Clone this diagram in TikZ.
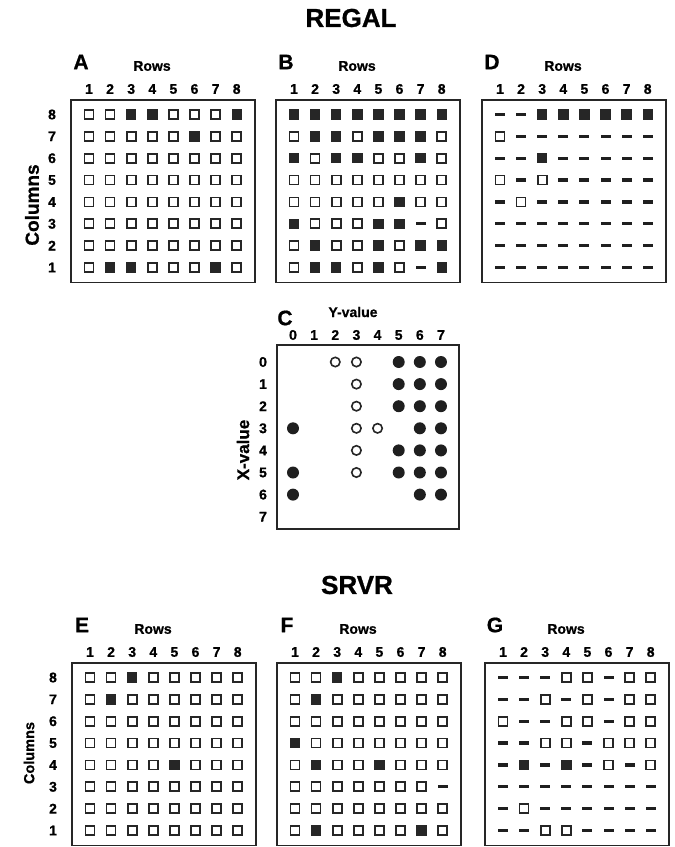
\documentclass[tikz,border=0pt]{standalone}
\usepackage{fontspec}
\setmainfont{Liberation Sans}[BoldFeatures={FakeBold=0.8}]
\tikzset{
  symo/.style={shape=rectangle, draw=black!85, line width=1.7pt, fill=white, minimum size=9pt, inner sep=0pt},
  symf/.style={shape=rectangle, fill=black!85, minimum size=10.4pt, inner sep=0pt},
  symd/.style={shape=rectangle, fill=black!88, minimum width=10pt, minimum height=3.2pt, inner sep=0pt},
  opencirc/.style={shape=circle, draw=black!85, line width=1.6pt, fill=white, minimum size=9.4pt, inner sep=0pt},
  fillcirc/.style={shape=circle, fill=black!88, minimum size=12pt, inner sep=0pt},
  pbox/.style={draw=black!85, line width=1.4pt, minimum width=184pt, minimum height=182.5pt, inner sep=0pt},
  plet/.style={font=\fontsize{21}{21}\selectfont\bfseries, inner sep=0pt},
  rowslbl/.style={font=\fontsize{14}{14}\selectfont\bfseries, inner sep=0pt},
  numlbl/.style={font=\fontsize{14}{14}\selectfont\bfseries, inner sep=0pt},
  titlelbl/.style={font=\fontsize{26}{26}\selectfont\bfseries, inner sep=0pt},
}
\newcommand{\sqpanel}[5]{%
  \node[pbox] (#1-box) at ({#2+92},{#3+91.25}) {};
  \node[plet] (#1-letter) at ({#2+10},{#3-38}) {#4};
  \node[rowslbl] (#1-rows) at ({#2+81},{#3-34}) {Rows};
  \foreach \cc in {1,...,8}{\node[numlbl] (#1-n\cc) at ({#2+18+21.1*(\cc-1)},{#3-11}) {\cc};}
  \foreach \rowdata [count=\rr] in {#5}{%
    \foreach \sy [count=\cc] in \rowdata{%
      \node[sym\sy] (#1-\rr-\cc) at ({#2+18+21.1*(\cc-1)},{#3+14.5+21.86*(\rr-1)}) {};
    }%
  }%
}
\newcommand{\rowlabels}[3]{%
  \foreach \rr in {1,...,8}{%
    \pgfmathtruncatemacro{\lab}{9-\rr}
    \node[numlbl] (#1-rl\rr) at (#2,{#3+14.5+21.86*(\rr-1)}) {\lab};
  }%
}
\begin{document}
\begin{tikzpicture}[x=1pt,y=-1pt]
\useasboundingbox (0,0) rectangle (675,847);

% titles
\node[titlelbl] (regal) at (351,18) {REGAL};
\node[titlelbl] (srvr) at (357,585) {SRVR};

% ---------- REGAL ----------
\sqpanel{A}{71}{100}{A}{%
 {o,o,f,f,o,o,o,f},
 {o,o,o,o,o,f,o,o},
 {o,o,o,o,o,o,o,o},
 {o,o,o,o,o,o,o,o},
 {o,o,o,o,o,o,o,o},
 {o,o,o,o,o,o,o,o},
 {o,o,o,o,o,o,o,o},
 {o,f,f,o,o,o,f,o}}
\rowlabels{A}{52}{100}
\node[font=\fontsize{19}{19}\selectfont\bfseries, rotate=90, inner sep=0pt] (colsA) at (32,205) {Columns};

\sqpanel{B}{276}{100}{B}{%
 {f,f,f,f,f,f,f,f},
 {o,f,f,o,f,f,f,o},
 {f,o,f,f,o,o,f,o},
 {o,o,o,o,o,o,o,o},
 {o,o,o,o,o,f,o,o},
 {f,o,o,o,f,f,d,o},
 {o,f,o,o,f,o,f,f},
 {o,f,f,o,f,o,d,f}}

\sqpanel{D}{482}{100}{D}{%
 {d,d,f,f,f,f,f,f},
 {o,d,d,d,d,d,d,d},
 {d,d,f,d,d,d,d,d},
 {o,d,o,d,d,d,d,d},
 {d,o,d,d,d,d,d,d},
 {d,d,d,d,d,d,d,d},
 {d,d,d,d,d,d,d,d},
 {d,d,d,d,d,d,d,d}}

% ---------- panel C ----------
\node[draw=black!85, line width=1.4pt, minimum width=182pt, minimum height=184pt, inner sep=0pt] (C-box) at (368,437) {};
\node[plet] (C-letter) at (285,318) {C};
\node[rowslbl] (C-yval) at (353,312) {Y-value};
\node[font=\fontsize{17}{17}\selectfont\bfseries, rotate=90, inner sep=0pt] (C-xval) at (243,450) {X-value};
\foreach \k in {0,...,7}{%
  \node[numlbl] (C-yn\k) at ({293+21.14*\k},335) {\k};
  \node[numlbl] (C-xn\k) at (263,{362+22.1*\k}) {\k};
}
% filled circles: X/Y pairs
\foreach \xv/\yv in {0/5,0/6,0/7,1/5,1/6,1/7,2/5,2/6,2/7,3/0,3/6,3/7,4/5,4/6,4/7,5/0,5/5,5/6,5/7,6/0,6/6,6/7}{%
  \node[fillcirc] (C-\xv-\yv) at ({293+21.14*\yv},{362+22.1*\xv}) {};
}
% open circles
\foreach \xv/\yv in {0/2,0/3,1/3,2/3,3/3,3/4,4/3,5/3}{%
  \node[opencirc] (C-\xv-\yv) at ({293+21.14*\yv},{362+22.1*\xv}) {};
}

% ---------- SRVR ----------
\sqpanel{E}{72}{663}{E}{%
 {o,o,f,o,o,o,o,o},
 {o,f,o,o,o,o,o,o},
 {o,o,o,o,o,o,o,o},
 {o,o,o,o,o,o,o,o},
 {o,o,o,o,f,o,o,o},
 {o,o,o,o,o,o,o,o},
 {o,o,o,o,o,o,o,o},
 {o,o,o,o,o,o,o,o}}
\rowlabels{E}{53}{663}
\node[font=\fontsize{14.5}{14.5}\selectfont\bfseries, rotate=90, inner sep=0pt] (colsE) at (29,753) {Columns};

\sqpanel{F}{277}{663}{F}{%
 {o,o,f,o,o,o,o,o},
 {o,f,o,o,o,o,o,o},
 {o,o,o,o,o,o,o,o},
 {f,o,o,o,o,o,o,o},
 {o,f,o,o,f,o,o,o},
 {o,o,o,o,o,o,o,d},
 {o,o,o,o,o,o,o,o},
 {o,f,o,o,o,o,f,o}}

\sqpanel{G}{485}{663}{G}{%
 {d,d,d,o,o,d,o,o},
 {d,d,o,d,o,d,o,o},
 {o,d,d,o,o,d,o,o},
 {d,d,o,o,d,o,o,o},
 {d,f,d,f,d,o,d,o},
 {d,d,d,d,d,d,d,d},
 {d,o,d,d,d,d,d,d},
 {d,d,o,o,d,d,d,d}}
\end{tikzpicture}
\end{document}
